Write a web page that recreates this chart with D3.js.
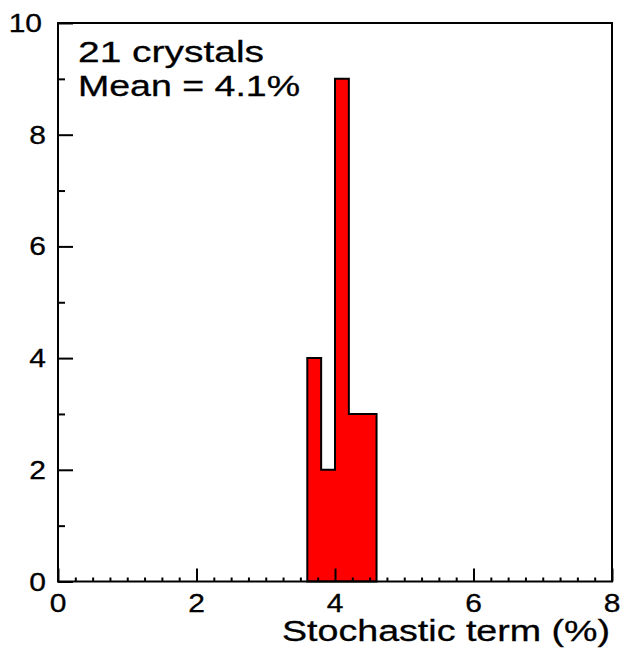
<!DOCTYPE html>
<html>
<head>
<meta charset="utf-8">
<script src="https://cdn.jsdelivr.net/npm/d3@7"></script>
<style>
html,body{margin:0;padding:0;background:#fff;}
svg{display:block;}
text{font-family:"Liberation Sans",Arial,Helvetica,sans-serif;fill:#000;}
</style>
</head>
<body>
<script>
// ---- data ----
const binEdges = [3.6, 3.8, 4.0, 4.2, 4.4, 4.6];
const binCounts = [4, 2, 9, 3, 3];
const xTickValues = [0, 2, 4, 6, 8];
const yTickValues = [0, 2, 4, 6, 8, 10];
const infoLines = ["21 crystals", "Mean = 4.1%"];
const xTitle = "Stochastic term (%)";

const W = 621, H = 651;
const m = {left: 58, right: 612, top: 23, bottom: 581.5};

const svg = d3.select("body").append("svg").attr("width", W).attr("height", H);

const x = d3.scaleLinear().domain([0, 8]).range([m.left, m.right]);
const y = d3.scaleLinear().domain([0, 10]).range([m.bottom, m.top]);

// histogram step outline
const pts = [[binEdges[0], 0]];
binCounts.forEach((c, i) => { pts.push([binEdges[i], c]); pts.push([binEdges[i + 1], c]); });
pts.push([binEdges[binEdges.length - 1], 0]);
const line = d3.line().x(d => x(d[0])).y(d => y(d[1]));
svg.append("path").attr("d", line(pts) + "Z")
  .attr("fill", "#ff0000").attr("stroke", "#000").attr("stroke-width", 2)
  .attr("stroke-linejoin", "miter");

// x axis ticks (inside, pointing up)
const xMinor = d3.range(0, 8.001, 0.25);
const xAxis = d3.axisBottom(x).tickValues(xMinor).tickSizeInner(-4).tickSizeOuter(0).tickFormat("");
const gx = svg.append("g").attr("transform", `translate(0,${m.bottom})`).call(xAxis);
gx.selectAll(".tick line").attr("stroke", "#000").attr("stroke-width", 2)
  .attr("y2", d => (Math.abs(d % 2) < 1e-9 ? -13 : -4));
gx.select(".domain").remove();

// y axis ticks (inside, pointing right)
const yMinor = d3.range(0, 10.001, 1);
const yAxis = d3.axisLeft(y).tickValues(yMinor).tickSizeOuter(0).tickFormat("");
const gy = svg.append("g").attr("transform", `translate(${m.left},0)`).call(yAxis);
gy.selectAll(".tick line").attr("stroke", "#000").attr("stroke-width", 2)
  .attr("x2", d => (d % 2 === 0 ? 15 : 7));
gy.select(".domain").remove();

// frame
svg.append("rect").attr("x", m.left).attr("y", m.top)
  .attr("width", m.right - m.left).attr("height", m.bottom - m.top)
  .attr("fill", "none").attr("stroke", "#000").attr("stroke-width", 2);

// x tick labels
svg.append("g").selectAll("text").data(xTickValues).join("text")
  .attr("transform", d => `translate(${x(d)},612) scale(1.2,1)`)
  .attr("text-anchor", "middle").attr("font-size", 25)
  .attr("stroke", "#000").attr("stroke-width", 0.3).text(d => d);

// y tick labels
svg.append("g").selectAll("text").data(yTickValues).join("text")
  .attr("transform", d => `translate(${d === 10 ? 42 : 46},${y(d) + 9}) scale(1.2,1)`)
  .attr("text-anchor", "end").attr("font-size", 25)
  .attr("stroke", "#000").attr("stroke-width", 0.3).text(d => d);

// info text
svg.append("text").attr("x", 78).attr("y", 62).attr("font-size", 30)
  .attr("stroke", "#000").attr("stroke-width", 0.3)
  .attr("textLength", 186).attr("lengthAdjust", "spacingAndGlyphs").text(infoLines[0]);
svg.append("text").attr("x", 78).attr("y", 96).attr("font-size", 30)
  .attr("stroke", "#000").attr("stroke-width", 0.3)
  .attr("textLength", 222).attr("lengthAdjust", "spacingAndGlyphs").text(infoLines[1]);

// x title
svg.append("text").attr("x", 282).attr("y", 641).attr("font-size", 29)
  .attr("stroke", "#000").attr("stroke-width", 0.3)
  .attr("textLength", 328).attr("lengthAdjust", "spacingAndGlyphs").text(xTitle);
</script>
</body>
</html>
